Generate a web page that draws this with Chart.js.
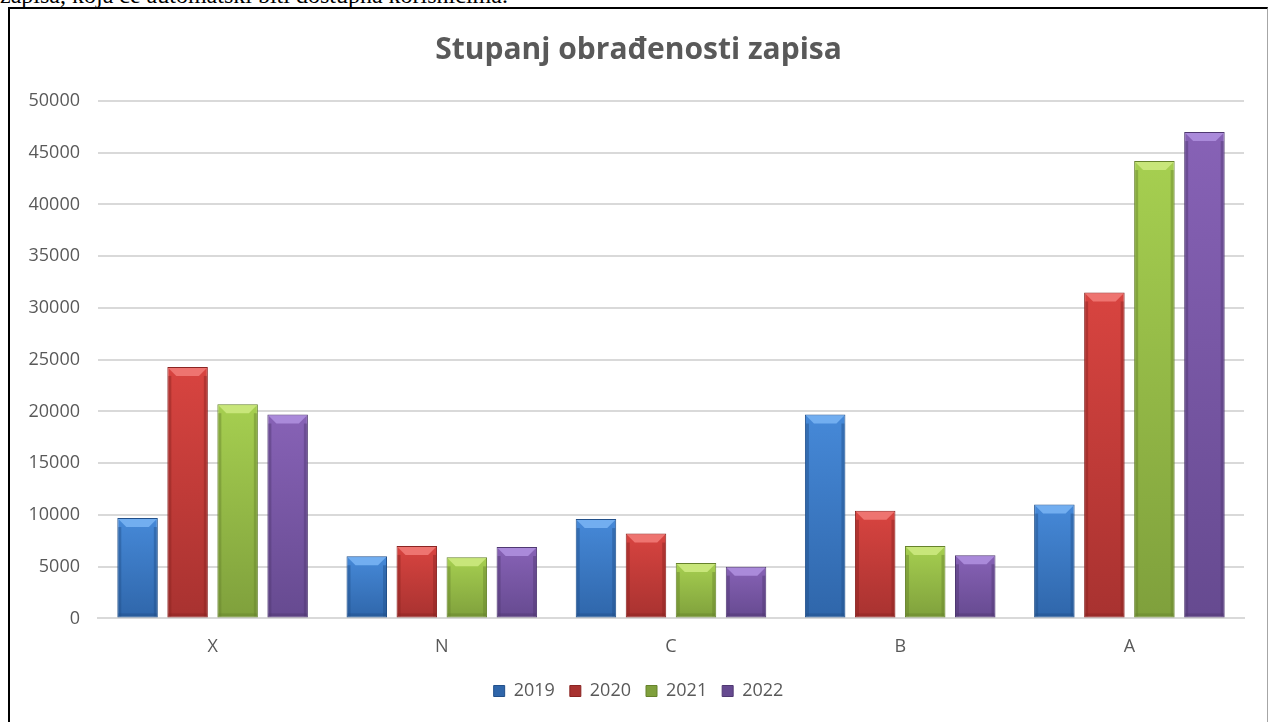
<!DOCTYPE html>
<html>
<head>
<meta charset="utf-8">
<script src="https://cdn.jsdelivr.net/npm/chart.js@4"></script>
<style>
  body { margin: 0; background: #fff; width: 1269px; height: 722px; overflow: hidden; position: relative; }
  #note { position: absolute; left: 0; top: -17px; font: 24px/24px "Liberation Serif", "Times New Roman", serif; color: #000; white-space: nowrap; }
  #box { position: absolute; left: 8px; top: 7px; width: 1257px; height: 713px;
         border-top: 2px solid #000; border-left: 2px solid #000; border-right: 1px solid #a6a6a6; background: #fff; }
  #chart { display: block; }
</style>
</head>
<body>
<div id="note">zapisa, koja će automatski biti dostupna korisnicima.</div>
<div id="box"><canvas id="chart" width="1257" height="713"></canvas></div>
<script>
const categories = ["X", "N", "C", "B", "A"];
const years = ["2019", "2020", "2021", "2022"];
const values2019 = [9700, 6000, 9600, 19700, 11000];
const values2020 = [24300, 7000, 8200, 10400, 31500];
const values2021 = [20700, 5900, 5350, 7000, 44200];
const values2022 = [19700, 6900, 5000, 6100, 47000];
const yMax = 50000;
const yStep = 5000;

// colours per series: light top, dark bottom, bevel highlight, edge
const shades = [
  { top: "#4689d8", bot: "#2f66aa", hi: "#72aef0", edge: "#22508a" },
  { top: "#d84440", bot: "#a83230", hi: "#ee7470", edge: "#8a2422" },
  { top: "#a6cf50", bot: "#7fa03c", hi: "#c8e67a", edge: "#66822c" },
  { top: "#8762b6", bot: "#664a90", hi: "#aa8ada", edge: "#4f3872" }
];
const series = [values2019, values2020, values2021, values2022];

function barFill(i) {
  return (ctx) => {
    const chart = ctx.chart;
    if (ctx.type !== "data" || !chart.chartArea || !chart.scales.y) return shades[i].top;
    const y0 = chart.scales.y.getPixelForValue(ctx.raw);
    const y1 = chart.scales.y.getPixelForValue(0);
    const g = chart.ctx.createLinearGradient(0, y0, 0, y1);
    g.addColorStop(0, shades[i].top);
    g.addColorStop(1, shades[i].bot);
    return g;
  };
}

const bevel = {
  id: "bevel",
  afterDatasetsDraw(chart) {
    const c = chart.ctx;
    chart.data.datasets.forEach((ds, i) => {
      const meta = chart.getDatasetMeta(i);
      if (meta.hidden) return;
      meta.data.forEach(bar => {
        const { x, y, width, base } = bar.getProps(["x", "y", "width", "base"], true);
        const l = x - width / 2, r = x + width / 2;
        const h = Math.min(8, (base - y) / 3);
        c.save();
        c.fillStyle = shades[i].hi;
        c.beginPath();
        c.moveTo(l + 1, y + 1); c.lineTo(r - 1, y + 1);
        c.lineTo(r - 1 - h, y + 1 + h); c.lineTo(l + 1 + h, y + 1 + h);
        c.closePath(); c.fill();
        c.globalAlpha = 0.45;
        c.fillStyle = shades[i].edge;
        c.fillRect(l + 1, y + 1 + h, 3, base - y - h - 2);
        c.fillRect(r - 4, y + 1 + h, 3, base - y - h - 2);
        c.fillRect(l + 1, base - 4, width - 2, 3);
        c.restore();
      });
    });
  }
};

new Chart(document.getElementById("chart"), {
  type: "bar",
  data: {
    labels: categories,
    datasets: years.map((yr, i) => ({
      label: yr,
      data: series[i],
      backgroundColor: barFill(i),
      borderColor: shades[i].edge,
      borderWidth: 1,
      borderSkipped: false,
      categoryPercentage: 0.873,
      barPercentage: 0.81
    }))
  },
  plugins: [bevel],
  options: {
    responsive: false,
    animation: false,
    layout: { padding: { left: 0, right: 0, top: 0, bottom: 12 } },
    plugins: {
      title: {
        display: true,
        text: "Stupanj obrađenosti zapisa",
        color: "#595959",
        font: { family: "Open Sans", size: 30, weight: "bold" },
        padding: { top: 23, bottom: 33 }
      },
      legend: {
        position: "bottom",
        labels: {
          color: "#595959",
          font: { family: "Open Sans", size: 18 },
          boxWidth: 11,
          boxHeight: 11,
          padding: 15
        }
      },
      tooltip: { enabled: false }
    },
    scales: {
      x: {
        grid: { display: false },
        border: { display: true, color: "#d9d9d9", width: 2 },
        ticks: { color: "#595959", font: { family: "Open Sans", size: 18 }, padding: 9.5 }
      },
      y: {
        min: 0,
        max: yMax,
        afterFit(scale) { scale.width = 88; },
        grid: { color: "#d9d9d9", lineWidth: 2, drawTicks: false },
        border: { display: false },
        ticks: {
          stepSize: yStep,
          color: "#595959",
          font: { family: "Open Sans", size: 18 },
          padding: 18,
          callback: (v) => String(v)
        }
      },
      // empty right-hand margin so title and legend centre on the full width
      gap: {
        type: "linear",
        position: "right",
        afterFit(scale) { scale.width = 23; },
        grid: { display: false },
        border: { display: false },
        ticks: { display: false }
      }
    }
  }
});
</script>
</body>
</html>
